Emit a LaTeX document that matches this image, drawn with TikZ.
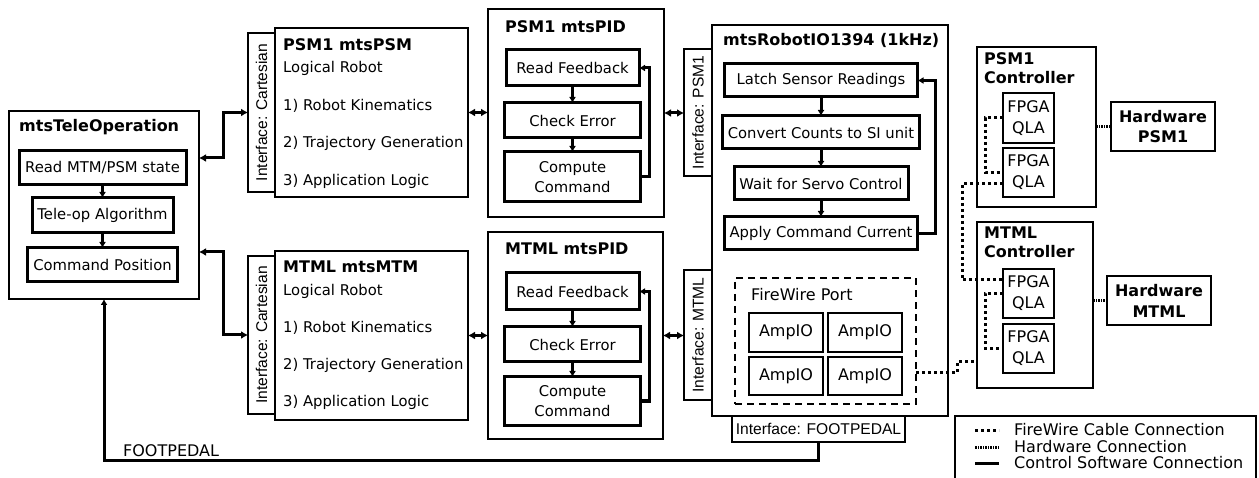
\documentclass[tikz,border=0pt]{standalone}
\usepackage{fontspec}
\setmainfont{DejaVu Sans}
\newfontfamily\ifont{Liberation Sans}
\usetikzlibrary{arrows.meta}
\tikzset{
  sz/.style 2 args={minimum width=#1pt, minimum height=#2pt},
  outer/.style={draw, line width=1.5pt, inner sep=0pt, outer sep=0pt},
  iface/.style={draw, line width=1.5pt, inner sep=0pt, outer sep=0pt},
  stepbox/.style={draw, line width=3pt, inner sep=0pt, outer sep=0pt, align=center,
     font=\fontsize{14.8}{19.5}\selectfont},
  smallbox/.style={draw, line width=2pt, inner sep=0pt, outer sep=0pt, align=center,
     font=\fontsize{16}{21}\selectfont},
  hwbox/.style={draw, line width=2pt, inner sep=0pt, outer sep=0pt, align=center,
     font=\bfseries\fontsize{16}{20.5}\selectfont},
  dashbox/.style={draw, line width=1.5pt, dash pattern=on 7pt off 5pt, inner sep=0pt, outer sep=0pt},
  title/.style={anchor=west, inner sep=0pt, font=\bfseries\fontsize{16}{19}\selectfont, align=left},
  txt/.style={anchor=west, inner sep=0pt, font=\fontsize{14.8}{18}\selectfont},
  bigtxt/.style={anchor=west, inner sep=0pt, font=\fontsize{16}{18}\selectfont},
  ilabel/.style={inner sep=0pt, rotate=90, font=\ifont\fontsize{15.6}{18}\selectfont},
  sw/.style={line width=3pt, {Latex[length=7pt,width=8pt]}-{Latex[length=7pt,width=8pt]}},
  flow/.style={line width=3pt, -{Latex[length=6pt,width=7pt]}},
  fwire/.style={line width=3pt, dash pattern=on 3pt off 3pt},
  hwire/.style={line width=3pt, dash pattern=on 2pt off 1pt on 1pt off 1pt},
  plain/.style={line width=3pt},
}
\begin{document}
\begin{tikzpicture}[x=1pt,y=-1pt]
\useasboundingbox (0,0) rectangle (1259,478);

% ---------------- mtsTeleOperation
\node[outer, sz={190}{188}] (tele) at (104,205) {};
\node[title] (teleT) at (19,127) {mtsTeleOperation};
\node[stepbox, sz={167}{34}] (t1) at (102.5,168) {Read MTM/PSM state};
\node[stepbox, sz={141}{35}] (t2) at (102.5,215.5) {Tele-op Algorithm};
\node[stepbox, sz={150}{34}] (t3) at (102.5,265) {Command Position};
\draw[flow] (t1.south) -- (t2.north);
\draw[flow] (t2.south) -- (t3.north);

% ---------------- PSM1 mtsPSM
\node[iface, sz={27}{159}] (ifP) at (261.5,112.5) {};
\node[ilabel] (ifPL) at (ifP) {Interface: Cartesian};
\node[outer, sz={193}{169}] (psm) at (371.5,112.5) {};
\node[title] (psmT) at (283,45) {PSM1 mtsPSM};
\node[txt] (psm0) at (283,68) {Logical Robot};
\node[txt] (psm1) at (283,106) {1) Robot Kinematics};
\node[txt] (psm2) at (283,143) {2) Trajectory Generation};
\node[txt] (psm3) at (283,181) {3) Application Logic};

% ---------------- MTML mtsMTM
\node[iface, sz={27}{158}] (ifM) at (261.5,335) {};
\node[ilabel] (ifML) at (ifM) {Interface: Cartesian};
\node[outer, sz={193}{169}] (mtm) at (371.5,335.5) {};
\node[title] (mtmT) at (283,267) {MTML mtsMTM};
\node[txt] (mtm0) at (283,291) {Logical Robot};
\node[txt] (mtm1) at (283,328) {1) Robot Kinematics};
\node[txt] (mtm2) at (283,365) {2) Trajectory Generation};
\node[txt] (mtm3) at (283,402) {3) Application Logic};

% ---------------- PSM1 mtsPID
\node[outer, sz={176}{208}] (pidP) at (576,113) {};
\node[title] (pidPT) at (505,27) {PSM1 mtsPID};
\node[stepbox, sz={133}{36}] (pP1) at (572.5,68) {Read Feedback};
\node[stepbox, sz={136}{35}] (pP2) at (572.5,120.5) {Check Error};
\node[stepbox, sz={136}{50}] (pP3) at (572.5,177) {Compute\\Command};
\draw[flow] (pP1.south) -- (pP2.north);
\draw[flow] (pP2.south) -- (pP3.north);
\draw[flow] (pP3.east) -- ++(9,0) |- (pP1.east);

% ---------------- MTML mtsPID
\node[outer, sz={175}{207}] (pidM) at (575.5,335.5) {};
\node[title] (pidMT) at (505,249) {MTML mtsPID};
\node[stepbox, sz={133}{37}] (pM1) at (572.5,291.5) {Read Feedback};
\node[stepbox, sz={136}{35}] (pM2) at (572.5,344.5) {Check Error};
\node[stepbox, sz={136}{48}] (pM3) at (572.5,401) {Compute\\Command};
\draw[flow] (pM1.south) -- (pM2.north);
\draw[flow] (pM2.south) -- (pM3.north);
\draw[flow] (pM3.east) -- ++(9,0) |- (pM1.east);

% ---------------- mtsRobotIO1394
\node[iface, sz={28}{127}] (ifIO1) at (698,112.5) {};
\node[ilabel] (ifIO1L) at (ifIO1) {Interface: PSM1};
\node[iface, sz={28}{130}] (ifIO2) at (698,335) {};
\node[ilabel] (ifIO2L) at (ifIO2) {Interface: MTML};
\node[outer, sz={236}{391}] (io) at (830,220.5) {};
\node[title] (ioT) at (723,40) {mtsRobotIO1394 (1kHz)};
\node[stepbox, sz={193}{33}] (io1) at (821,80.5) {Latch Sensor Readings};
\node[stepbox, sz={197}{33}] (io2) at (821,132.5) {Convert Counts to SI unit};
\node[stepbox, sz={174}{33}] (io3) at (821,183.5) {Wait for Servo Control};
\node[stepbox, sz={193}{33}] (io4) at (821,233.5) {Apply Command Current};
\draw[flow] (io1.south) -- (io2.north);
\draw[flow] (io2.south) -- (io3.north);
\draw[flow] (io3.south) -- (io4.north);
\draw[flow] (io4.east) -- ++(18,0) |- (io1.east);

\node[dashbox, sz={181}{126}] (fw) at (825.5,341) {};
\node[bigtxt] (fwT) at (751,295) {FireWire Port};
\node[smallbox, sz={74}{39}] (a1) at (786,332.5) {AmpIO};
\node[smallbox, sz={74}{39}] (a2) at (865,332.5) {AmpIO};
\node[smallbox, sz={74}{38}] (a3) at (786,376) {AmpIO};
\node[smallbox, sz={74}{38}] (a4) at (865,376) {AmpIO};

\node[iface, sz={173}{26}] (ifFP) at (818.5,429) {};
\node[inner sep=0pt, font=\ifont\fontsize{15.6}{18}\selectfont] (ifFPL) at (ifFP) {Interface: FOOTPEDAL};

% ---------------- software connections
\draw[sw] ([yshift=47pt]tele.east) -- ++(24,0) |- (ifP.west);
\draw[sw] ([yshift=-47pt]tele.east) -- ++(24,0) |- (ifM.west);
\draw[sw] (psm.east) -- (psm.east -| pidP.west);
\draw[sw] (mtm.east) -- (mtm.east -| pidM.west);
\draw[sw] (pidP.east) -- (pidP.east -| ifIO1.west);
\draw[sw] (pidM.east) -- (pidM.east -| ifIO2.west);
\draw[flow] (ifFP.south) -- ++(0,18) -| (tele.south);
\node[bigtxt] (fpT) at (123,451) {FOOTPEDAL};

% ---------------- controllers
\node[outer, sz={119}{160}] (cP) at (1036.5,127) {};
\node[title, anchor=north west] (cPT) at (984,52) {PSM1\\Controller};
\node[smallbox, sz={51}{50}] (f1) at (1028.5,118) {FPGA\\QLA};
\node[smallbox, sz={51}{49}] (f2) at (1028.5,172.5) {FPGA\\QLA};
\node[hwbox, sz={104}{49}] (hwP) at (1163,126.5) {Hardware\\PSM1};

\node[outer, sz={116}{166}] (cM) at (1035,305) {};
\node[title, anchor=north west] (cMT) at (984,227) {MTML\\Controller};
\node[smallbox, sz={51}{49}] (f3) at (1028.5,293.5) {FPGA\\QLA};
\node[smallbox, sz={51}{49}] (f4) at (1028.5,348.5) {FPGA\\QLA};
\node[hwbox, sz={104}{49}] (hwM) at (1159,301) {Hardware\\MTML};

\draw[fwire] (f1.west) -- ++(-18,0) |- (f2.west);
\draw[fwire] ([yshift=-11.5pt]f2.west) -- ++(-41,0) |- ([yshift=13.5pt]f3.west);
\draw[fwire] (f3.west) -- ++(-18,0) |- (f4.west);
\draw[fwire] ([yshift=-32pt]fw.east) -- ++(41,0) -- ++(0,-11) -- ++(20,0);
\draw[hwire] (cP.east |- hwP.west) -- (hwP.west);
\draw[hwire] (cM.east |- hwM.west) -- (hwM.west);

% ---------------- legend
\node[outer, sz={301}{66}] (leg) at (1105.5,449) {};
\coordinate (l1a) at (975,430); \coordinate (l1b) at (999,430);
\coordinate (l2a) at (975,447); \coordinate (l2b) at (999,447);
\coordinate (l3a) at (975,463); \coordinate (l3b) at (999,463);
\draw[fwire] (l1a) -- (l1b);
\draw[hwire] (l2a) -- (l2b);
\draw[plain] (l3a) -- (l3b);
\node[bigtxt] (lg1) at (1014,430) {FireWire Cable Connection};
\node[bigtxt] (lg2) at (1014,447) {Hardware Connection};
\node[bigtxt] (lg3) at (1014,463) {Control Software Connection};
\end{tikzpicture}
\end{document}
